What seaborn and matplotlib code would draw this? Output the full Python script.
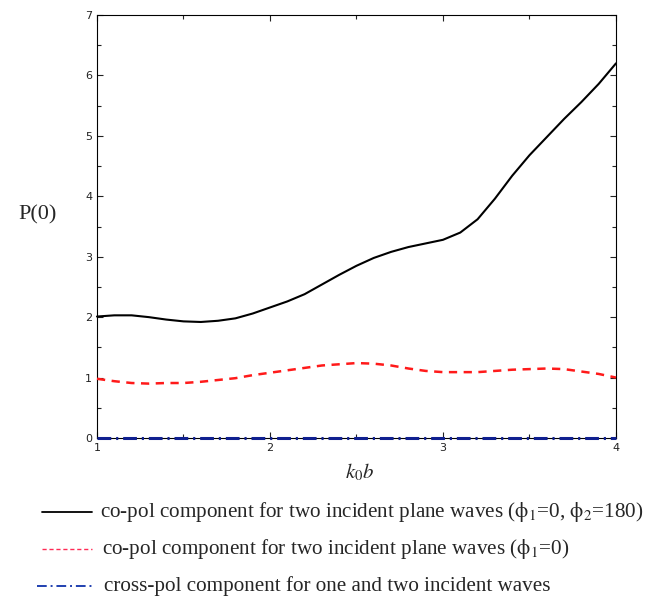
import numpy as np
import pandas as pd
import matplotlib
matplotlib.use("Agg")
import matplotlib.pyplot as plt
from matplotlib.lines import Line2D
from matplotlib.ticker import MultipleLocator
import seaborn as sns

k0b = [1.0, 1.1, 1.2, 1.3, 1.4, 1.5, 1.6, 1.7, 1.8, 1.9, 2.0, 2.1, 2.2, 2.3, 2.4, 2.5,
       2.6, 2.7, 2.8, 2.9, 3.0, 3.1, 3.2, 3.3, 3.4, 3.5, 3.6, 3.7, 3.8, 3.9, 4.0]
copol_two = [2.01, 2.03, 2.03, 2.00, 1.96, 1.93, 1.92, 1.94, 1.98, 2.06, 2.16, 2.26, 2.38, 2.54,
             2.70, 2.85, 2.98, 3.08, 3.16, 3.22, 3.28, 3.40, 3.62, 3.96, 4.34, 4.68, 4.98,
             5.28, 5.56, 5.86, 6.20]
copol_one = [0.98, 0.94, 0.91, 0.90, 0.91, 0.91, 0.93, 0.96, 0.99, 1.04, 1.08, 1.12, 1.16, 1.20,
             1.22, 1.24, 1.23, 1.20, 1.15, 1.11, 1.09, 1.09, 1.09, 1.11, 1.13, 1.14, 1.15,
             1.14, 1.10, 1.06, 1.00]
crosspol = [0.0] * len(k0b)

labels = [
    r"co-pol component for two incident plane waves ($\mathrm{\phi_1}$=0, $\mathrm{\phi_2}$=180)",
    r"co-pol component for two incident plane waves ($\mathrm{\phi_1}$=0)",
    "cross-pol component for one and two incident waves",
]
colors = ["black", "#ff1a1a", "#102090"]
styles = ["-", (0, (3.3, 2.6)), (0, (4.5, 1.6, 0.7, 1.6))]
widths = [1.5, 1.8, 2.2]

sns.set_style("ticks")
plt.rcParams["mathtext.fontset"] = "stix"

df = pd.DataFrame({
    "k0b": k0b * 3,
    "P": copol_two + copol_one + crosspol,
    "series": [labels[0]] * len(k0b) + [labels[1]] * len(k0b) + [labels[2]] * len(k0b),
})

fig = plt.figure(figsize=(6.46, 5.98), dpi=100)
ax = fig.add_axes([97 / 646, 1 - 438 / 598, (616 - 97) / 646, (438 - 15) / 598])

for lab, c, ls, lw in zip(labels, colors, styles, widths):
    sub = df[df["series"] == lab]
    sns.lineplot(data=sub, x="k0b", y="P", ax=ax, color=c, linestyle=ls, linewidth=lw,
                 legend=False, clip_on=False, zorder=3)

ax.set_xlim(1, 4)
ax.set_ylim(0, 7)
ax.xaxis.set_major_locator(MultipleLocator(1))
ax.xaxis.set_minor_locator(MultipleLocator(0.5))
ax.yaxis.set_major_locator(MultipleLocator(1))
ax.yaxis.set_minor_locator(MultipleLocator(0.5))
ax.tick_params(axis="both", which="both", direction="in", top=True, right=True,
               labelsize=8, colors="#222222", length=4, width=0.8)
ax.tick_params(axis="both", which="minor", length=3)
for s in ax.spines.values():
    s.set_color("black")
    s.set_linewidth(0.8)
ax.set_xlabel("")
ax.set_ylabel("")

fig.text(38 / 646, 1 - 215 / 598, "P(0)", fontsize=16, family="Liberation Serif",
         ha="center", va="center")
fig.text(360 / 646, 1 - 472 / 598, r"$k_0b$", fontsize=15, ha="center", va="center")

# legend below the axes
rows_y = [512, 549, 586]
handle_x = [(42, 92), (42, 92), (37, 95)]
text_x = [100, 102, 104]
handle_colors = ["black", "#ff2a55", "#2040b0"]
handle_widths = [1.3, 1.0, 1.4]
handle_styles = ["-", (0, (3, 2)), (0, (5, 2, 1, 2))]
for i in range(3):
    y = 1 - rows_y[i] / 598
    x0, x1 = handle_x[i]
    fig.add_artist(Line2D([x0 / 646, x1 / 646], [y, y], transform=fig.transFigure,
                          color=handle_colors[i], linestyle=handle_styles[i],
                          linewidth=handle_widths[i]))
    fig.text(text_x[i] / 646, y, labels[i], fontsize=15.2, family="Liberation Serif",
             ha="left", va="center")

fig.savefig("out.png", dpi=100, facecolor="white")
